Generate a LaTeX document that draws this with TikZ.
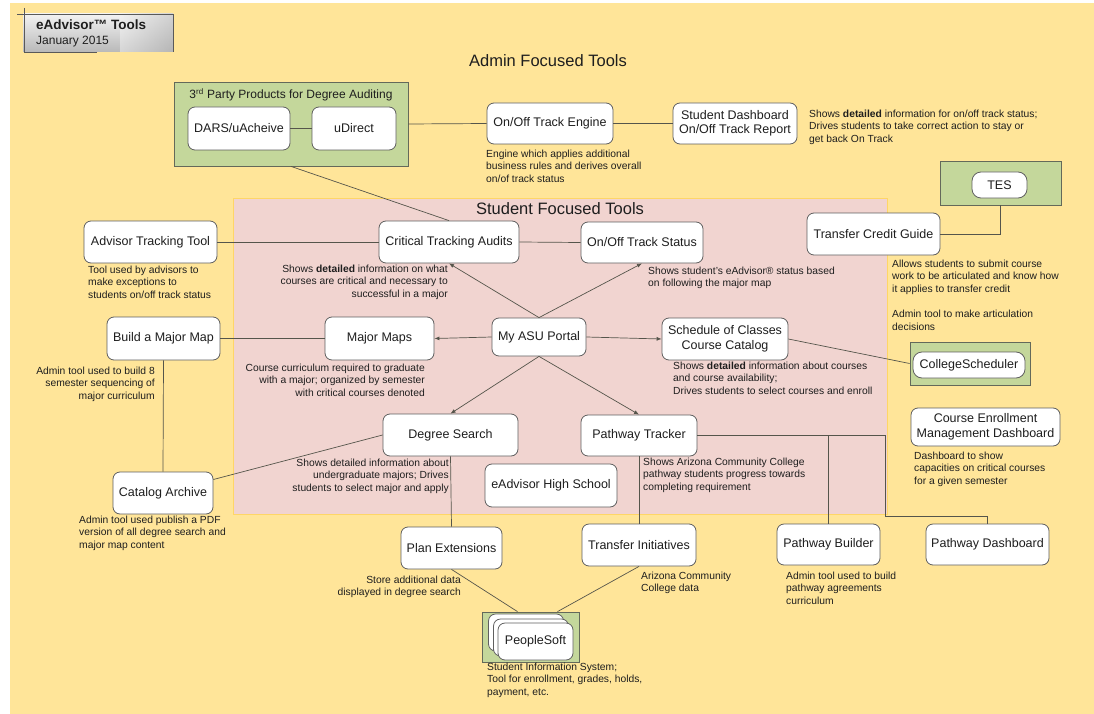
\documentclass[tikz,border=0pt]{standalone}
\usepackage{fontspec}
\setmainfont{Liberation Sans}
\usetikzlibrary{arrows.meta,calc}
\definecolor{bgyellow}{RGB}{255,229,153}
\definecolor{pinkbg}{RGB}{241,212,208}
\definecolor{pinkline}{RGB}{255,214,102}
\definecolor{greenbg}{RGB}{196,215,155}
\definecolor{greenline}{RGB}{100,105,90}
\definecolor{boxline}{RGB}{95,95,95}
\definecolor{lnc}{RGB}{85,85,75}
\definecolor{txt}{RGB}{30,30,30}
\tikzset{
  box/.style={draw=boxline, fill=white, rounded corners=7pt, line width=0.8pt, inner sep=1pt, align=center, font=\fontsize{12.5}{14.5}\selectfont, text=txt},
  gbox/.style={draw=greenline, fill=greenbg, line width=0.8pt, inner sep=0pt},
  note/.style={inner sep=0pt, font=\fontsize{10.3}{12.7}\selectfont, text=txt},
  conn/.style={draw=lnc, line width=0.7pt},
  arr/.style={conn, -{Latex[length=5pt,width=4pt]}},
  heading/.style={inner sep=0pt, font=\fontsize{16.5}{19}\selectfont, text=txt},
}
\begin{document}
\begin{tikzpicture}[x=1pt,y=-1pt]
\useasboundingbox (0,0) rectangle (1094,714);
\fill[white] (0,0) rectangle (1094,714);
\fill[bgyellow] (10,3) rectangle (1094,714);

% title box
\shade[top color=gray!10, bottom color=gray!55] (23,14) rectangle (173,52);
\shade[left color=gray!10, right color=gray!60, opacity=0.5] (120,14) rectangle (173,52);
\draw[gray!70!black, line width=0.6pt] (17,14) -- (173,14) -- (173,52);
\draw[gray!70!black, line width=0.6pt] (24,8) -- (24,52) -- (97,52);
\node[anchor=west, inner sep=0pt, font=\bfseries\fontsize{13.5}{15}\selectfont, text=txt] (ttl) at (36,25) {eAdvisor™ Tools};
\node[anchor=west, inner sep=0pt, font=\fontsize{12}{14}\selectfont, text=txt] (date) at (36,42) {January 2015};

\node[heading] (admin) at (548,61) {Admin Focused Tools};

% student region
\node[fill=pinkbg, draw=pinkline, line width=0.8pt, minimum width=654pt, minimum height=316pt, inner sep=0pt] (student) at (560,356) {};
\node[heading] (studentt) at (560,209) {Student Focused Tools};

% 3rd party
\node[gbox, minimum width=234pt, minimum height=84pt] (party) at (291,124) {};
\node[inner sep=0pt, font=\fontsize{12}{14}\selectfont, text=txt] (partyt) at (291,95) {3\textsuperscript{rd} Party Products for Degree Auditing};
\node[box, minimum width=102pt, minimum height=43pt] (dars) at (239,128.5) {DARS/uAcheive};
\node[box, minimum width=84pt, minimum height=43pt] (udirect) at (354,128.5) {uDirect};

\node[box, minimum width=126pt, minimum height=41pt] (engine) at (550,123.5) {On/Off Track Engine};
\node[box, minimum width=124pt, minimum height=41pt] (dash) at (735,123.5) {Student Dashboard\\On/Off Track Report};

\node[gbox, minimum width=121pt, minimum height=44pt] (tesbox) at (1000.5,183) {};
\node[box, minimum width=55pt, minimum height=26pt, rounded corners=9pt] (tes) at (999.5,185) {TES};
\node[box, minimum width=133pt, minimum height=42pt] (tcg) at (873.5,234) {Transfer Credit Guide};

\node[box, minimum width=133pt, minimum height=42pt] (att) at (150.5,242) {Advisor Tracking Tool};
\node[box, minimum width=140pt, minimum height=42pt] (cta) at (449,242) {Critical Tracking Audits};
\node[box, minimum width=122pt, minimum height=41pt] (ots) at (642,242.5) {On/Off Track Status};

\node[box, minimum width=113pt, minimum height=43pt] (bmm) at (163.5,338.5) {Build a Major Map};
\node[box, minimum width=109pt, minimum height=43pt] (mm) at (379.5,338.5) {Major Maps};
\node[box, minimum width=94pt, minimum height=38pt] (portal) at (539,337) {My ASU Portal};
\node[box, minimum width=126pt, minimum height=42pt] (soc) at (725,339) {Schedule of Classes\\Course Catalog};

\node[gbox, minimum width=120pt, minimum height=43pt] (csbox) at (970,363.5) {};
\node[box, minimum width=112pt, minimum height=26pt, rounded corners=9pt] (cs) at (969,365) {CollegeScheduler};

\node[box, minimum width=135pt, minimum height=42pt] (ds) at (450.5,435) {Degree Search};
\node[box, minimum width=116pt, minimum height=41pt] (pt) at (639,435.5) {Pathway Tracker};
\node[box, minimum width=132pt, minimum height=43pt] (hs) at (551,485.5) {eAdvisor High School};
\node[box, minimum width=100pt, minimum height=42pt] (ca) at (163,493) {Catalog Archive};
\node[box, minimum width=149pt, minimum height=38pt] (cemd) at (985.5,427) {Course Enrollment\\Management Dashboard};

\node[box, minimum width=101pt, minimum height=42pt] (pe) at (451.5,548) {Plan Extensions};
\node[box, minimum width=114pt, minimum height=42pt] (ti) at (639,545) {Transfer Initiatives};
\node[box, minimum width=103pt, minimum height=41pt] (pb) at (828.5,544.5) {Pathway Builder};
\node[box, minimum width=123pt, minimum height=41pt] (pdash) at (987.5,544.5) {Pathway Dashboard};

\node[gbox, minimum width=97pt, minimum height=50pt] (psbox) at (530.5,637) {};
\node[box, minimum width=75pt, minimum height=37pt] (psback) at (526,632.5) {};
\node[box, minimum width=75pt, minimum height=37pt] (psmid) at (531,637.5) {};
\node[box, minimum width=75pt, minimum height=37pt] (ps) at (535.5,641.5) {PeopleSoft};

% connectors
\draw[conn] (dars.east) -- (udirect.west);
\draw[conn] (party.east) -- (engine.west);
\draw[conn] (engine.east) -- (dash.west);
\draw[conn] (party.south) -- (cta.north);
\draw[conn] (tesbox.south) |- (tcg.east);
\draw[conn] (att.east) -- (cta.west);
\draw[conn] (cta.east) -- (ots.west);
\draw[arr] (portal.north) -- (cta.south);
\draw[arr] (portal.north) -- (ots.south);
\draw[conn] (bmm.east) -- (mm.west);
\draw[arr] (portal.west) -- (mm.east);
\draw[arr] (portal.east) -- (soc.west);
\draw[conn] (soc.east) -- (csbox.west);
\draw[arr] (portal.south) -- (ds.north);
\draw[arr] (portal.south) -- (pt.north);
\draw[conn] (bmm.south) -- (ca.north);
\draw[conn] (ca.15) -- (ds.west);
\draw[conn] (ds.south) -- (pe.north);
\draw[conn] (pt.south) -- (ti.north);
\draw[conn] (pt.east) -| (pb.north);
\coordinate (pturn) at (885,516);
\draw[conn] (pt.east) -| (pturn) -| (pdash.north);
\draw[conn] (pe.south) -- ($(psbox.north)+(-13,0)$);
\draw[conn] (ti.south) -- ($(psbox.north)+(27,0)$);

% notes
\node[note, anchor=north west, align=left] (n1) at (486,149.5) {Engine which applies additional\\business rules and derives overall\\on/of track status};
\node[note, anchor=north west, align=left] (n2) at (809,109.5) {Shows \textbf{detailed} information for on/off track status;\\Drives students to take correct action to stay or\\get back On Track};
\node[note, anchor=north west, align=left] (n3) at (88,265.5) {Tool used by advisors to\\make exceptions to\\students on/off track status};
\node[note, anchor=north east, align=right] (n4) at (448,264.5) {Shows \textbf{detailed} information on what\\courses are critical and necessary to\\successful in a major};
\node[note, anchor=north west, align=left] (n5) at (648,266.5) {Shows student's eAdvisor® status based\\on following the major map};
\node[note, anchor=north west, align=left] (n6) at (892,259.5) {Allows students to submit course\\work to be articulated and know how\\it applies to transfer credit\\[12.7pt]Admin tool to make articulation\\decisions};
\node[note, anchor=north east, align=right] (n7) at (155,366.5) {Admin tool used to build 8\\semester sequencing of\\major curriculum};
\node[note, anchor=north east, align=right] (n8) at (425,363.5) {Course curriculum required to graduate\\with a major; organized by semester\\with critical courses denoted};
\node[note, anchor=north west, align=left] (n9) at (673,361.5) {Shows \textbf{detailed} information about courses\\and course availability;\\Drives students to select courses and enroll};
\node[note, anchor=north east, align=right] (n10) at (449,458.5) {Shows detailed information about\\undergraduate majors; Drives\\students to select major and apply};
\node[note, anchor=north west, align=left] (n11) at (643,457.5) {Shows Arizona Community College\\pathway students progress towards\\completing requirement};
\node[note, anchor=north west, align=left] (n12) at (79,515.5) {Admin tool used publish a PDF\\version of all degree search and\\major map content};
\node[note, anchor=north west, align=left] (n13) at (914,451.5) {Dashboard to show\\capacities on critical courses\\for a given semester};
\node[note, anchor=north west, align=left] (n14) at (786,571.5) {Admin tool used to build\\pathway agreements\\curriculum};
\node[note, anchor=north west, align=left] (n15) at (641,571.5) {Arizona Community\\College data};
\node[note, anchor=north east, align=right] (n16) at (461,575.5) {Store additional data\\displayed in degree search};
\node[note, anchor=north west, align=left] (n17) at (487,662.5) {Student Information System;\\Tool for enrollment, grades, holds,\\payment, etc.};
\end{tikzpicture}
\end{document}
